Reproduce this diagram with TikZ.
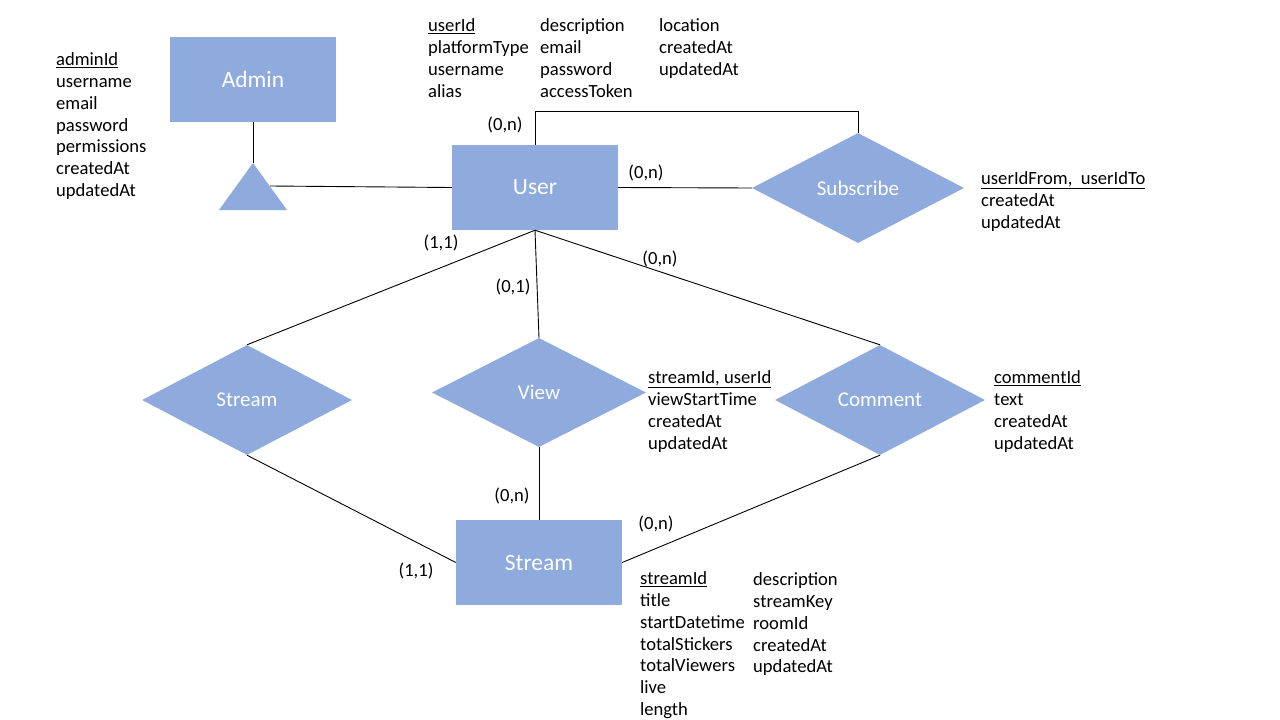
\documentclass[tikz,border=0pt]{standalone}
\usepackage{fontspec}
\setmainfont{Carlito}
\usetikzlibrary{shapes.geometric}
\definecolor{erblue}{RGB}{143,170,220}
\begin{document}
\begin{tikzpicture}[x=1pt,y=-1pt,
  entity/.style={rectangle,fill=erblue,minimum width=166pt,minimum height=85pt,inner sep=0pt,text=white,font=\fontsize{23.5}{27}\selectfont},
  rel/.style={diamond,fill=erblue,inner sep=0pt,text=white,font=\fontsize{21}{25}\selectfont},
  attr/.style={anchor=north west,inner sep=0pt,align=left,font=\fontsize{18.6}{21.8}\selectfont},
  card/.style={inner sep=0pt,font=\fontsize{18.6}{21.8}\selectfont},
  conn/.style={draw=black,line width=0.9pt}]
\useasboundingbox[fill=white] (0,0) rectangle (1280,720);

% entities
\node[entity] (admin) at (253,79.5) {Admin};
\node[entity] (user) at (535,187.5) {User};
\node[entity] (streamE) at (539,562.5) {Stream};

% relationships
\node[rel,minimum width=212pt,minimum height=110pt] (subscribe) at (858,188) {Subscribe};
\node[rel,minimum width=210pt,minimum height=110pt] (streamR) at (247,400) {Stream};
\node[rel,minimum width=214pt,minimum height=109pt] (view) at (539,392.5) {View};
\node[rel,minimum width=210pt,minimum height=110pt] (comment) at (880,400) {Comment};

% ISA triangle
\coordinate (triApex) at (253,163);
\coordinate (triRight) at (270,186);
\fill[erblue] (triApex) -- (287,210) -- (219,210) -- cycle;

% connectors
\draw[conn] (admin.south) -- (triApex);
\draw[conn] (triRight) -- (user.west);
\coordinate (loopA) at (535,111);
\coordinate (loopB) at (858,111);
\draw[conn] (user.north) -- (loopA) -- (loopB) -- (subscribe.north);
\draw[conn] (user.east) -- (subscribe.west);
\draw[conn] (user.south) -- (streamR.north);
\draw[conn] (user.south) -- (view.north);
\draw[conn] (user.south) -- (comment.north);
\draw[conn] (streamR.south) -- (streamE.west);
\draw[conn] (view.south) -- (streamE.north);
\draw[conn] (comment.south) -- (streamE.east);

% cardinalities
\node[card] (c1) at (505,125) {(0,n)};
\node[card] (c2) at (646,173) {(0,n)};
\node[card] (c3) at (441,243) {(1,1)};
\node[card] (c4) at (513,287) {(0,1)};
\node[card] (c5) at (660,259) {(0,n)};
\node[card] (c6) at (512,496) {(0,n)};
\node[card] (c7) at (656,524) {(0,n)};
\node[card] (c8) at (416,571) {(1,1)};

% attributes
\node[attr] (aAdmin) at (56,52.5) {\underline{adminId}\\username\\email\\password\\permissions\\createdAt\\updatedAt};
\node[attr] (aUser1) at (428,18.5) {\underline{userId}\\platformType\\username\\alias};
\node[attr] (aUser2) at (540,18.5) {description\\email\\password\\accessToken};
\node[attr] (aUser3) at (659,18.5) {location\\createdAt\\updatedAt};
\node[attr] (aSub) at (981,171.5) {\underline{userIdFrom,\ \ userIdTo}\\createdAt\\updatedAt};
\node[attr] (aView) at (648,370.5) {\underline{streamId, userId}\\viewStartTime\\createdAt\\updatedAt};
\node[attr] (aComment) at (994,370.5) {\underline{commentId}\\text\\createdAt\\updatedAt};
\node[attr] (aStream1) at (640,571.5) {\underline{streamId}\\title\\startDatetime\\totalStickers\\totalViewers\\live\\length};
\node[attr] (aStream2) at (753,572.5) {description\\streamKey\\roomId\\createdAt\\updatedAt};
\end{tikzpicture}
\end{document}
